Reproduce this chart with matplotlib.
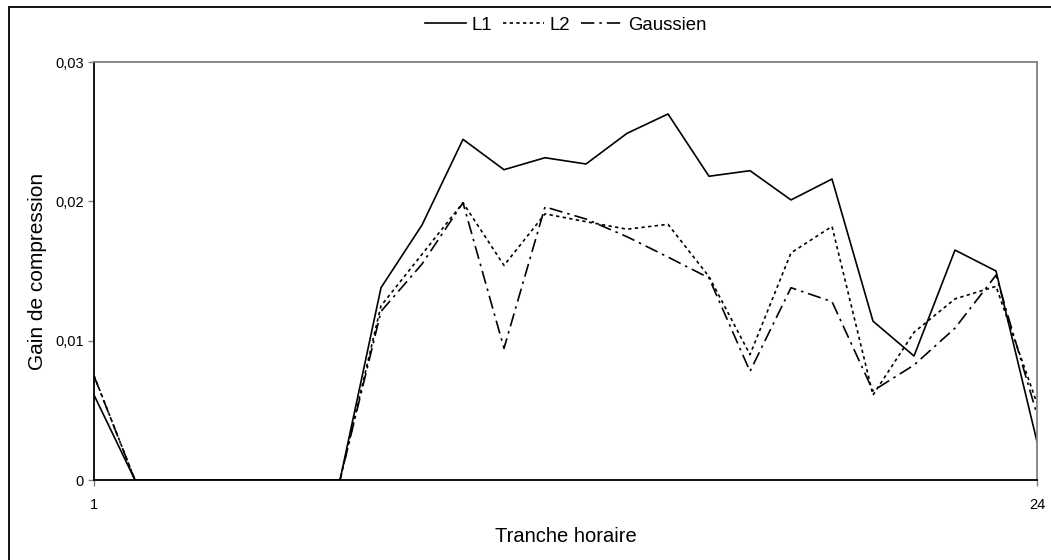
import matplotlib.pyplot as plt
from matplotlib.patches import Rectangle

plt.rcParams['font.family'] = ['Liberation Sans', 'DejaVu Sans']

# Données (tranches horaires 1 à 24)
tranches = list(range(1, 25))
gain_l1 = [0.0061, 0, 0, 0, 0, 0, 0, 0.0138, 0.0183, 0.02445, 0.02227, 0.02313,
           0.02268, 0.02488, 0.02627, 0.0218, 0.0222, 0.0201, 0.0216, 0.0114,
           0.0089, 0.0165, 0.0150, 0.00275]
gain_l2 = [0.0075, 0, 0, 0, 0, 0, 0, 0.0125, 0.0162, 0.0199, 0.0154, 0.0191,
           0.01854, 0.0180, 0.01835, 0.0146, 0.0090, 0.0163, 0.0182, 0.0061,
           0.0106, 0.0130, 0.0139, 0.0055]
gain_gauss = [0.00746, 0, 0, 0, 0, 0, 0, 0.0121, 0.0155, 0.0199, 0.00945, 0.0196,
              0.01873, 0.01746, 0.0160, 0.0145, 0.0078, 0.0138, 0.0128, 0.0064,
              0.00825, 0.0109, 0.0147, 0.0047]
yticks = [0, 0.01, 0.02, 0.03]
ytick_labels = ['0', '0,01', '0,02', '0,03']

fig = plt.figure(figsize=(10.51, 5.60), dpi=100)
ax = fig.add_axes([94 / 1051, 1 - 480 / 560, (1037 - 94) / 1051, (480 - 62) / 560])

# cadre extérieur (coupé à droite et en bas)
fig.patches.append(Rectangle((8.5 / 1051, -0.1), 1.2, 1.1 - 7 / 560, transform=fig.transFigure,
                             fill=False, edgecolor='black', linewidth=1.3))

ax.plot(tranches, gain_l1, color='black', linewidth=1.2, linestyle='-', label='L1')
ax.plot(tranches, gain_l2, color='black', linewidth=1.2, linestyle=(0, (2, 2)), label='L2')
ax.plot(tranches, gain_gauss, color='black', linewidth=1.2,
        linestyle=(0, (8, 3, 1.5, 3)), label='Gaussien')

ax.set_xlim(1, 24)
ax.set_ylim(0, 0.03)
ax.set_xticks([1, 24])
ax.set_xticklabels(['1', '24'])
ax.set_yticks(yticks)
ax.set_yticklabels(ytick_labels)
ax.tick_params(axis='both', labelsize=10.5, length=4, color='#808080', width=1)
ax.tick_params(axis='x', pad=9)

for side in ['top', 'right']:
    ax.spines[side].set_color('#808080')
    ax.spines[side].set_linewidth(1.3)
for side in ['left', 'bottom']:
    ax.spines[side].set_color('black')
    ax.spines[side].set_linewidth(1.3)

ax.set_xlabel('Tranche horaire', fontsize=14.5, labelpad=11)
ax.set_ylabel('Gain de compression', fontsize=15, labelpad=5.5)

ax.legend(loc='center', bbox_to_anchor=(0.5, 1 + 37 / 418), ncol=3, frameon=False,
          fontsize=13.4, handlelength=2.2, handletextpad=0.3, columnspacing=0.6)

fig.savefig('out.png', dpi=100)
